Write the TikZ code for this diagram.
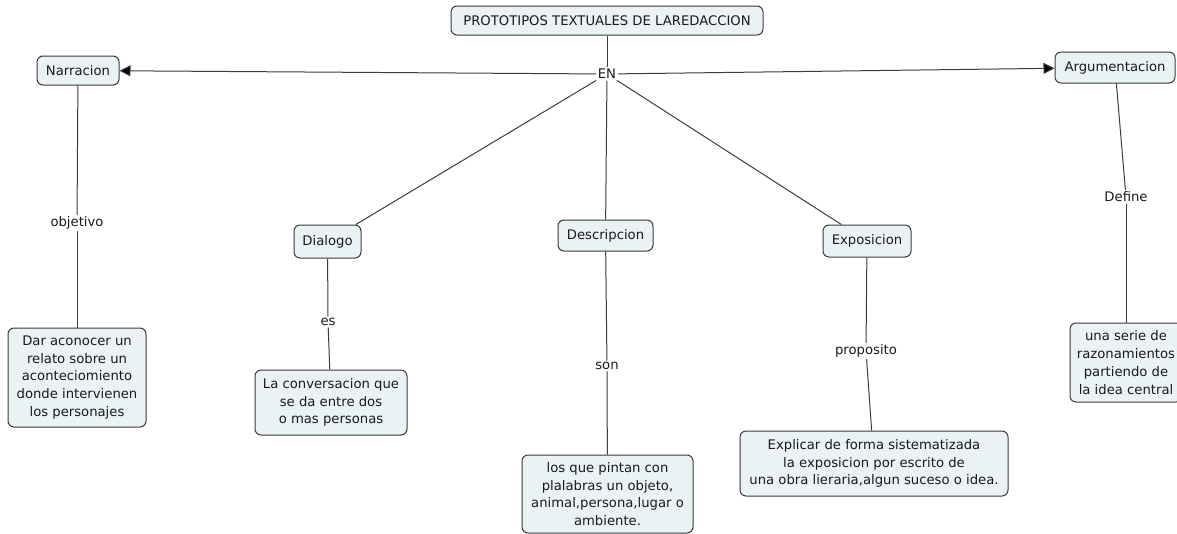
\documentclass[tikz,border=0pt]{standalone}
\usepackage{fontspec}
\setmainfont{DejaVu Sans}
\usetikzlibrary{arrows.meta}
\definecolor{boxfill}{HTML}{EBF2F5}
\definecolor{boxline}{HTML}{3A3A3A}
\definecolor{connline}{HTML}{3C3C3C}
\definecolor{txt}{HTML}{1A1A1A}
\begin{document}
\begin{tikzpicture}[x=1pt,y=-1pt,
  concept/.style={draw=boxline, fill=boxfill, rounded corners=6pt, line width=1pt,
    align=center, inner sep=0pt, text=txt, font=\fontsize{13.2}{17.8}\selectfont},
  linklabel/.style={fill=white, inner sep=1.5pt, text=txt, font=\fontsize{13.2}{15}\selectfont},
  conn/.style={draw=connline, line width=1pt},
  arr/.style={conn, -{Triangle[length=11pt,width=11pt,fill=black]}}
]
\useasboundingbox (0,0) rectangle (1177,533);
% concepts
\node[concept, minimum width=312pt, minimum height=29pt] (title) at (607,20.5) {PROTOTIPOS TEXTUALES DE LAREDACCION};
\node[concept, minimum width=82pt, minimum height=29pt] (narr) at (78,70.5) {Narracion};
\node[concept, minimum width=120pt, minimum height=31pt] (arg) at (1115,67.5) {Argumentacion};
\node[concept, minimum width=67pt, minimum height=33pt] (dial) at (327.5,241.5) {Dialogo};
\node[concept, minimum width=95pt, minimum height=31pt] (desc) at (605.5,235.5) {Descripcion};
\node[concept, minimum width=88pt, minimum height=32pt] (expo) at (867,241) {Exposicion};
\node[concept, minimum width=138pt, minimum height=99pt] (dar) at (77,377.5) {Dar aconocer un\\relato sobre un\\aconteciomiento\\donde intervienen\\los personajes};
\node[concept, minimum width=152pt, minimum height=65pt] (conv) at (331,402.5) {La conversacion que\\se da entre dos\\o mas personas};
\node[concept, minimum width=171pt, minimum height=78pt] (pint) at (607.5,494) {los que pintan con\\plalabras un objeto,\\animal,persona,lugar o\\ambiente.};
\node[concept, minimum width=268pt, minimum height=65pt] (expl) at (874,463.5) {Explicar de forma sistematizada\\la exposicion por escrito de\\una obra lieraria,algun suceso o idea.};
\node[concept, minimum width=112pt, minimum height=79pt] (serie) at (1126,362.5) {una serie de\\razonamientos\\partiendo de\\la idea central};
% link labels
\node[linklabel] (en) at (607,74) {EN};
\node[linklabel] (obj) at (77,223) {objetivo};
\node[linklabel] (es) at (328,322) {es};
\node[linklabel] (son) at (607,366) {son};
\node[linklabel] (prop) at (866,351) {proposito};
\node[linklabel] (def) at (1126,197) {Define};
% connectors
\draw[conn] (title) -- (en);
\draw[arr] (en) -- (narr);
\draw[arr] (en) -- (arg);
\draw[conn] (en) -- (dial);
\draw[conn] (en) -- (desc);
\draw[conn] (en) -- (expo);
\draw[conn] (narr) -- (obj);
\draw[conn] (obj) -- (dar);
\draw[conn] (dial) -- (es);
\draw[conn] (es) -- (conv);
\draw[conn] (desc) -- (son);
\draw[conn] (son) -- (pint);
\draw[conn] (expo) -- (prop);
\draw[conn] (prop) -- (expl);
\draw[conn] (arg) -- (def);
\draw[conn] (def) -- (serie);
\end{tikzpicture}
\end{document}
